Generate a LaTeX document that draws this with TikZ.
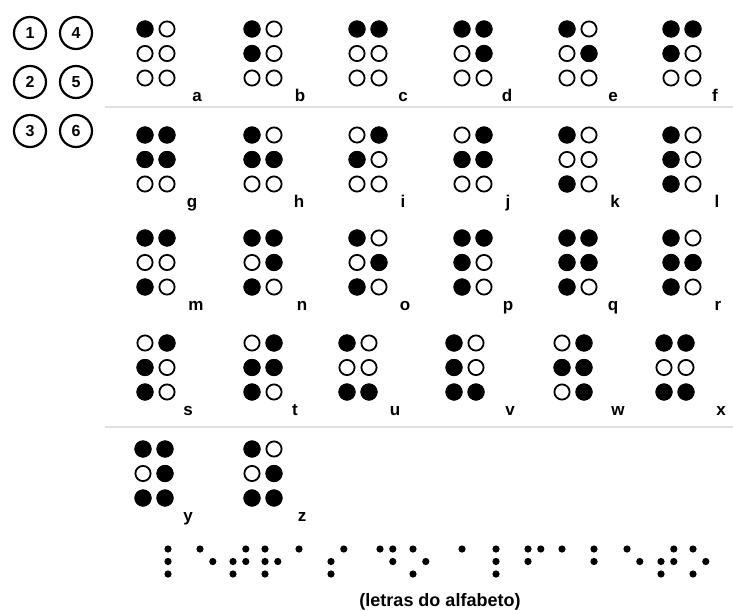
\documentclass[tikz,border=0pt]{standalone}
\usepackage{fontspec}
\setmainfont{Liberation Sans}

\tikzset{
  lleno/.style={fill=black},
  vacio/.style={draw=black, line width=1.8pt, fill=white},
  letra/.style={font=\bfseries\fontsize{17}{17}\selectfont, anchor=base},
  numero/.style={circle, draw=black, line width=2.2pt, minimum size=32pt, inner sep=0pt,
    font=\bfseries\fontsize{16}{16}\selectfont},
  separador/.style={draw=black!12, line width=1.5pt},
  pie/.style={font=\bfseries\fontsize{18}{18}\selectfont, anchor=base}
}

% Celda braille: x, y, puntos, letra, x de la letra
\newcommand{\celda}[5]{%
  \foreach \col in {0,1}
    \foreach \fila in {0,1,2}
      \draw[vacio] (#1+22*\col, #2+24.5*\fila) circle (7.6pt);
  \foreach \p in {#3} {
    \pgfmathtruncatemacro{\pc}{(\p-1)/3}
    \pgfmathtruncatemacro{\pf}{mod(\p-1,3)}
    \fill[lleno] (#1+22*\pc, #2+24.5*\pf) circle (8.6pt);
  }
  \node[letra] (letra-#4) at (#5, #2+72) {#4};
}

\begin{document}
\begin{tikzpicture}[x=1pt, y=-1pt]
        \useasboundingbox (0,0) rectangle (733,610);

        % Numeracion de los puntos
        \node[numero] (n1) at (30,33) {1};
        \node[numero] (n4) at (76,33) {4};
        \node[numero] (n2) at (30,82) {2};
        \node[numero] (n5) at (76,82) {5};
        \node[numero] (n3) at (30,131) {3};
        \node[numero] (n6) at (76,131) {6};

        % Separadores
        \draw[separador] (105,107) -- (733,107);
        \draw[separador] (105,427) -- (733,427);

        % a - f
        \celda{145}{29}{1}{a}{197}
        \celda{252}{29}{1,2}{b}{300}
        \celda{357}{29}{1,4}{c}{403}
        \celda{462}{29}{1,4,5}{d}{507}
        \celda{567}{29}{1,5}{e}{613}
        \celda{671}{29}{1,2,4}{f}{715}

        % g - l
        \celda{145}{135}{1,2,4,5}{g}{192}
        \celda{252}{135}{1,2,5}{h}{299}
        \celda{357}{135}{2,4}{i}{403}
        \celda{462}{135}{2,4,5}{j}{508}
        \celda{567}{135}{1,3}{k}{615}
        \celda{671}{135}{1,2,3}{l}{717}

        % m - r
        \celda{145}{238}{1,3,4}{m}{196}
        \celda{252}{238}{1,3,4,5}{n}{302}
        \celda{357}{238}{1,3,5}{o}{405}
        \celda{462}{238}{1,2,3,4}{p}{508}
        \celda{567}{238}{1,2,3,4,5}{q}{613}
        \celda{671}{238}{1,2,3,5}{r}{718}

        % s - x
        \celda{145}{343}{2,3,4}{s}{188}
        \celda{252}{343}{2,3,4,5}{t}{295}
        \celda{347}{343}{1,3,6}{u}{395}
        \celda{454}{343}{1,2,3,6}{v}{510}
        \celda{562}{343}{2,4,5,6}{w}{618}
        \celda{664}{343}{1,3,4,6}{x}{721}

        % y - z
        \celda{143}{449}{1,3,4,5,6}{y}{188}
        \celda{252}{449}{1,3,5,6}{z}{302}

        % Texto en braille
        \foreach \xx/\puntos in {168/{1,2,3}, 200/{1,5}, 233/{2,3,4,5}, 265/{1,2,3,5}, 299/{1}, 331/{2,3,4},
                                 380/{1,4,5}, 413/{1,3,5},
                                 462/{1}, 496/{1,2,3}, 528/{1,2,4}, 562/{1}, 594/{1,2}, 627/{1,5}, 661/{2,3,4,5}, 693/{1,3,5}} {
          \foreach \p in \puntos {
            \pgfmathtruncatemacro{\pc}{(\p-1)/3}
            \pgfmathtruncatemacro{\pf}{mod(\p-1,3)}
            \fill[lleno] (\xx+12.8*\pc, 549+12.5*\pf) circle (3.6pt);
          }
        }

        % Leyenda
        \node[pie] (leyenda) at (440,606) {(letras do alfabeto)};
\end{tikzpicture}
\end{document}
